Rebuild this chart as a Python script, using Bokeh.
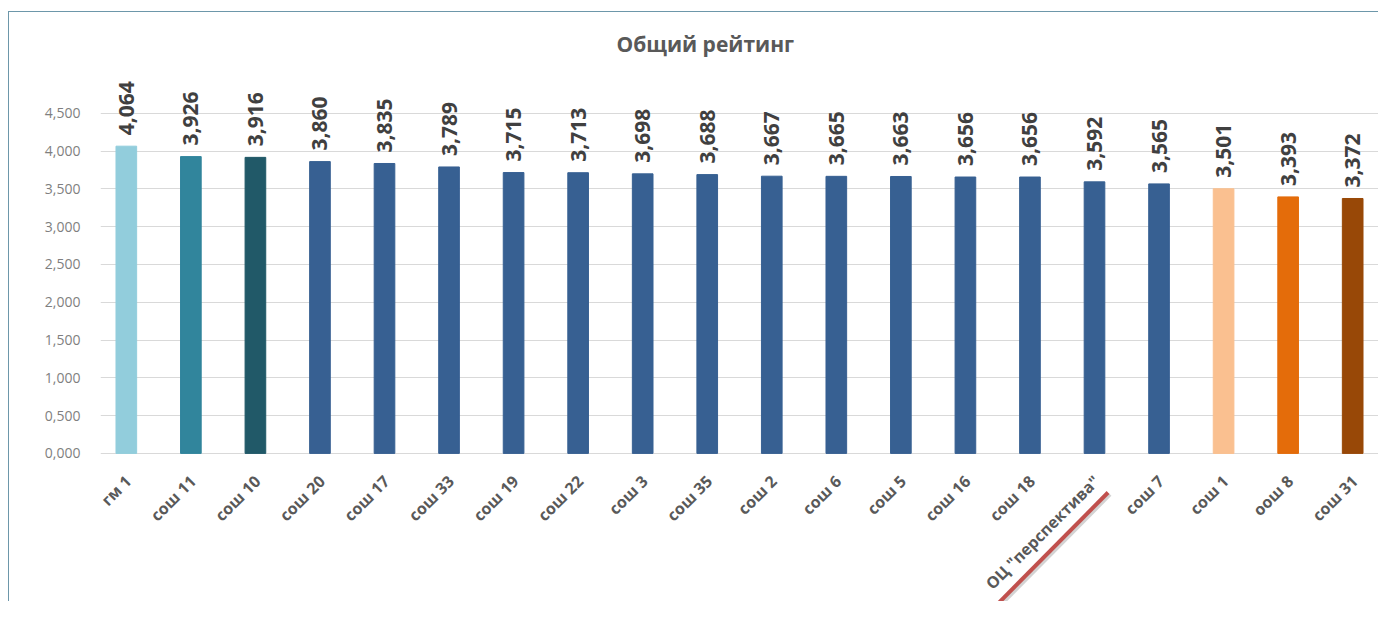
import math
from bokeh.plotting import figure
from bokeh.models import ColumnDataSource, Range1d, FactorRange, FixedTicker, CustomJSTickFormatter
from bokeh.core.properties import value
from bokeh.embed import file_html
from bokeh.resources import INLINE

categories = ["гм 1", "сош 11", "сош 10", "сош 20", "сош 17", "сош 33", "сош 19", "сош 22",
              "сош 3", "сош 35", "сош 2", "сош 6", "сош 5", "сош 16", "сош 18",
              'ОЦ "перспектива"', "сош 7", "сош 1", "оош 8", "сош 31"]
scores = [4.064, 3.926, 3.916, 3.860, 3.835, 3.789, 3.715, 3.713, 3.698, 3.688,
          3.667, 3.665, 3.663, 3.656, 3.656, 3.592, 3.565, 3.501, 3.393, 3.372]
colors = ["#92CDDC", "#31859C", "#215968"] + ["#376092"] * 14 + ["#FAC090", "#E46C0A", "#984807"]
y_ticks = [0, 0.5, 1.0, 1.5, 2.0, 2.5, 3.0, 3.5, 4.0, 4.5]
labels = [f"{v:.3f}".replace(".", ",") for v in scores]
title_text = "Общий рейтинг"
highlighted = 'ОЦ "перспектива"'

src = ColumnDataSource(dict(cat=categories, val=scores, color=colors, lab=labels))

FONT = "Open Sans"
BORDER = "#6d97aa"

p = figure(x_range=FactorRange(factors=categories, range_padding=-0.1, range_padding_units="absolute"),
           y_range=Range1d(-1.959, 5.991), width=1378, height=601,
           output_backend="svg", toolbar_location=None,
           min_border_left=100, min_border_right=0, min_border_top=0, min_border_bottom=0)
p.border_fill_color = None
p.background_fill_color = None
p.styles = {"background": f"linear-gradient({BORDER},{BORDER}) 8px 11px / 1px 100% no-repeat, "
                          f"linear-gradient({BORDER},{BORDER}) 8px 11px / 100% 1px no-repeat, #ffffff"}

p.outline_line_color = None
p.xgrid.grid_line_color = None
p.ygrid.grid_line_color = "#d9d9d9"
p.xaxis.visible = False
p.yaxis.ticker = FixedTicker(ticks=y_ticks)
p.yaxis.formatter = CustomJSTickFormatter(code="return tick.toFixed(3).replace('.', ',');")
p.yaxis.axis_line_color = None
p.yaxis.major_tick_line_color = None
p.yaxis.minor_tick_line_color = None
p.yaxis.major_label_standoff = 14
p.yaxis.major_label_text_font = FONT
p.yaxis.major_label_text_font_size = "14px"
p.yaxis.major_label_text_color = "#7f7f7f"

# title
p.text(x=[9.47], y=[5.409], text=[title_text], text_align="center", text_baseline="middle",
       text_font=value(FONT), text_font_size="21px", text_font_style="bold", text_color="#595959")

# bars
p.vbar(x="cat", top="val", width=0.32, color="color", source=src)

# value labels
p.text(x="cat", y="val", text="lab", source=src, angle=math.pi / 2,
       text_align="left", text_baseline="middle", y_offset=-11,
       text_font=value(FONT), text_font_size="21px", text_font_style="bold",
       text_color="#404040")

# category labels
p.text(x="cat", y=0, text="cat", source=src, angle=math.pi / 4,
       text_align="right", text_baseline="middle", x_offset=2, y_offset=25,
       text_font=value(FONT), text_font_size="16px", text_font_style="bold",
       text_color="#595959")

# red underline annotation below the highlighted label (with faint shadow)
idx = categories.index(highlighted) + 0.5
p.segment(x0=[idx - 1.54], y0=[-2.078], x1=[idx + 0.24], y1=[-0.543],
          line_color="#808080", line_alpha=0.35, line_width=4)
p.segment(x0=[idx - 1.57], y0=[-2.052], x1=[idx + 0.21], y1=[-0.517],
          line_color="#C0504D", line_width=4)

open("out.html", "w").write(file_html(p, INLINE))
